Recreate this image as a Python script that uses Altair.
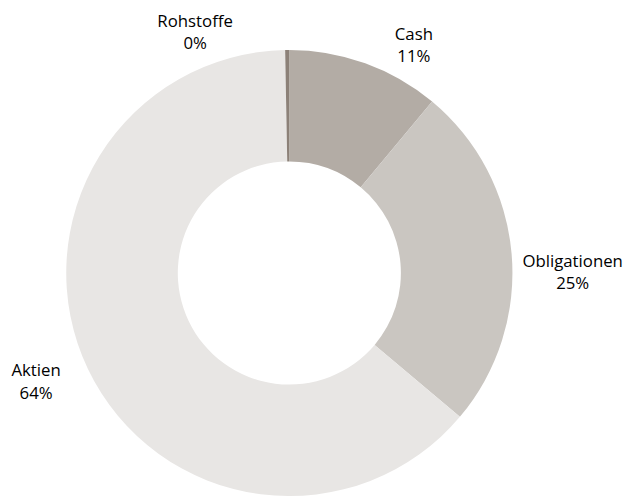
import altair as alt
import pandas as pd

categories = ["Cash", "Obligationen", "Aktien", "Rohstoffe"]
values = [11.05, 25.1, 63.55, 0.3]
colors = ["#b3aca5", "#cac6c1", "#e8e6e4", "#8c8178"]

df = pd.DataFrame({
    "cat": categories,
    "value": values,
    "idx": list(range(len(categories))),
})
df["label"] = [f"{c}\n{round(v):.0f}%" for c, v in zip(categories, values)]

base = alt.Chart(df).transform_window(
    cum="sum(value)", sort=[alt.SortField("idx")]
).transform_calculate(mid="datum.cum - datum.value / 2")

arcs = alt.Chart(df).mark_arc(radius=226, radius2=113, strokeWidth=0).encode(
    theta=alt.Theta("value:Q", stack=True),
    color=alt.Color("cat:N", scale=alt.Scale(domain=categories, range=colors), legend=None),
    order=alt.Order("idx:Q", sort="ascending"),
)

offsets = {
    "Cash": (37, 5),
    "Obligationen": (26, 12),
    "Aktien": (-20, -13),
    "Rohstoffe": (-93, 8),
}

layers = [arcs]
for c in categories:
    dx, dy = offsets[c]
    layers.append(
        base.transform_filter(alt.datum.cat == c)
        .mark_text(radius=262, dx=dx, dy=dy, font="Open Sans", fontSize=17,
                   lineHeight=22.5, lineBreak="\n", align="center",
                   baseline="middle", color="#000000")
        .encode(theta=alt.Theta("mid:Q"), text="label:N")
    )

chart = alt.layer(*layers).properties(
    width=570, height=530, padding=0
).configure_view(stroke=None)

chart.save("out.html", embed_options={"renderer": "svg", "actions": False})
